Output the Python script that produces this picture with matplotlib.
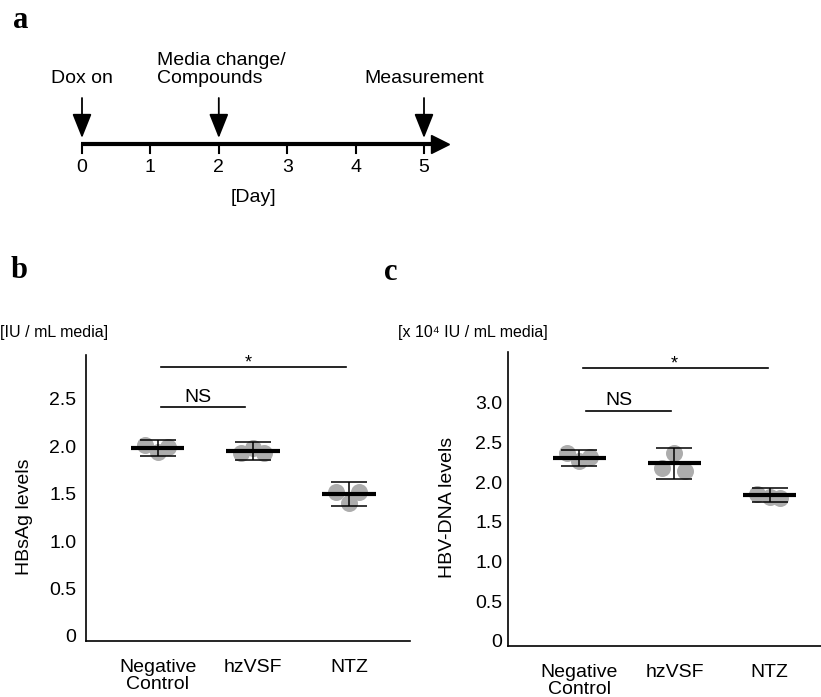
import numpy as np
import matplotlib.pyplot as plt

plt.rcParams['font.family'] = ['Liberation Sans', 'DejaVu Sans']

# timeline (panel a)
days = [0, 1, 2, 3, 4, 5]
event_days = [0, 2, 5]
event_labels = ['Dox on', 'Media change/\nCompounds', 'Measurement']

# panel b / c data
groups = ['Negative\nControl', 'hzVSF', 'NTZ']
hbsag_points = [[2.01, 1.94, 1.99], [1.93, 1.98, 1.93], [1.52, 1.40, 1.52]]
hbsag_mean = [1.98, 1.95, 1.50]
hbsag_err = [0.085, 0.095, 0.125]
hbsag_ticks = [0, 0.5, 1.0, 1.5, 2.0, 2.5]
hbsag_tick_labels = ['0', '0.5', '1.0', '1.5', '2.0', '2.5']

hbv_points = [[2.37, 2.27, 2.32], [2.18, 2.37, 2.14], [1.85, 1.81, 1.80]]
hbv_mean = [2.31, 2.24, 1.84]
hbv_err = [0.10, 0.195, 0.085]
hbv_ticks = [0, 0.5, 1.0, 1.5, 2.0, 2.5, 3.0]
hbv_tick_labels = ['0', '0.5', '1.0', '1.5', '2.0', '2.5', '3.0']

W, H = 821, 697
fig = plt.figure(figsize=(W / 100, H / 100), dpi=100)


def px_axes(left, top, right, bottom):
    return fig.add_axes([left / W, 1 - bottom / H, (right - left) / W, (bottom - top) / H])


# ---- panel a ----
ax = px_axes(82, 20, 424, 210)
ax.set_xlim(0, 5)
ax.set_ylim(-66, 124)   # y in pixels above the timeline
ax.axis('off')
ax.plot([-0.02, 5.2], [0, 0], color='black', lw=3, solid_capstyle='butt', clip_on=False)
ax.plot([5.24], [0], marker='>', ms=13, color='black', clip_on=False)
for d in days:
    ax.plot([d, d], [0, -9], color='black', lw=1.5, clip_on=False)
    ax.text(d, -23, str(d), ha='center', va='center', fontsize=14)
ax.text(2.5, -54, '[Day]', ha='center', va='center', fontsize=14)
for d, lab in zip(event_days, event_labels):
    ax.annotate('', xy=(d, 6), xytext=(d, 46),
                arrowprops=dict(arrowstyle='-|>,head_length=0.75,head_width=0.3', lw=1.3,
                                color='black', mutation_scale=20, shrinkA=0, shrinkB=0),
                annotation_clip=False)
    if '\n' in lab:
        ax.text(d - 0.9, 57, lab, ha='left', va='bottom', fontsize=14, linespacing=1.05)
    else:
        ax.text(d, 57, lab, ha='center', va='bottom', fontsize=14)


def dot_panel(ax, points, mean, err, ticks, tick_labels, ylim, ylabel, pad):
    jitter = [-0.13, 0.0, 0.11]
    x = np.arange(len(groups))
    for i, pts in enumerate(points):
        ax.scatter(x[i] + np.array(jitter), pts, s=150, color='#adadad', zorder=1, linewidths=0)
    ax.errorbar(x, mean, yerr=err, fmt='none', ecolor='black', elinewidth=1.1,
                capsize=13, capthick=1.1, zorder=2)
    ax.hlines(mean, x - 0.28, x + 0.28, color='black', lw=3, zorder=3)
    ax.set_xlim(-0.75, x[-1] + ylim[2])
    ax.set_ylim(ylim[0], ylim[1])
    ax.set_xticks(x)
    ax.set_xticklabels(groups, fontsize=14, linespacing=1.0)
    ax.set_yticks(ticks)
    ax.set_yticklabels(tick_labels, fontsize=14)
    ax.tick_params(axis='both', length=0)
    ax.tick_params(axis='x', pad=13)
    ax.tick_params(axis='y', pad=pad)
    for s in ['top', 'right']:
        ax.spines[s].set_visible(False)
    for s in ['left', 'bottom']:
        ax.spines[s].set_linewidth(1.2)
    ax.set_ylabel(ylabel, fontsize=14)


# ---- panel b ----
axb = px_axes(86, 355, 410, 641)
dot_panel(axb, hbsag_points, hbsag_mean, hbsag_err, hbsag_ticks, hbsag_tick_labels,
          (-0.053, 2.964, 0.64), 'HBsAg levels', 7)
axb.yaxis.set_label_coords(-0.165, 0.434)
axb.plot([0.03, 1.97], [2.84, 2.84], color='black', lw=1.2)
axb.text(0.95, 2.83, '*', ha='center', va='baseline', fontsize=13)
axb.plot([0.03, 0.91], [2.42, 2.42], color='black', lw=1.2)
axb.text(0.42, 2.52, 'NS', ha='center', va='center', fontsize=14)

# ---- panel c ----
axc = px_axes(508, 352, 821, 646)
dot_panel(axc, hbv_points, hbv_mean, hbv_err, hbv_ticks, hbv_tick_labels,
          (-0.063, 3.64, 0.54), 'HBV-DNA levels', 4)
axc.yaxis.set_label_coords(-0.166, 0.47)
axc.plot([0.04, 1.98], [3.44, 3.44], color='black', lw=1.2)
axc.text(1.0, 3.43, '*', ha='center', va='baseline', fontsize=13)
axc.plot([0.07, 0.96], [2.90, 2.90], color='black', lw=1.2)
axc.text(0.42, 3.035, 'NS', ha='center', va='center', fontsize=14)

# unit labels
fig.text(0, 1 - 332 / H, '[IU / mL media]', ha='left', va='center', fontsize=11.5)
fig.text(398 / W, 1 - 332 / H, '[x 10\u2074 IU / mL media]', ha='left', va='center', fontsize=11.5)

# panel letters
for lab, xp, yp in [('a', 21, 20), ('b', 19, 271), ('c', 391, 273)]:
    fig.text(xp / W, 1 - yp / H, lab, ha='center', va='center', fontsize=22,
             fontweight='bold', family='Liberation Serif')

fig.savefig('out.png', dpi=100)
